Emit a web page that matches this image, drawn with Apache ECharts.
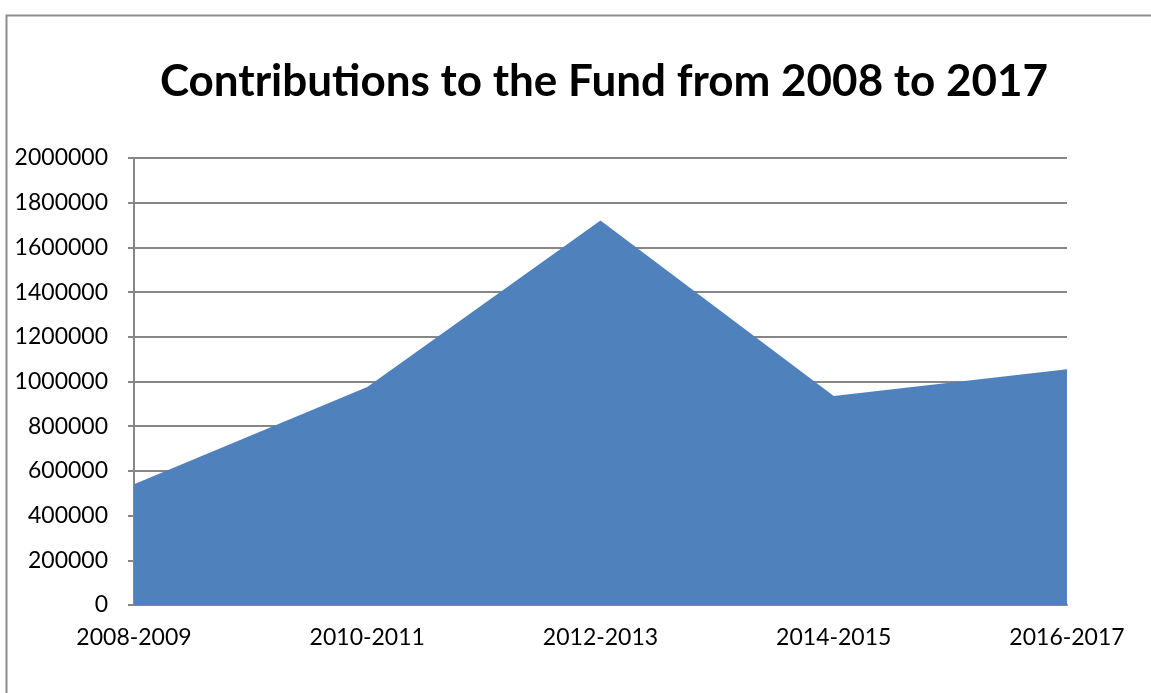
<!DOCTYPE html>
<html>
<head>
<meta charset="utf-8">
<script src="https://cdn.jsdelivr.net/npm/echarts@6/dist/echarts.min.js"></script>
<style>
  html, body { margin: 0; padding: 0; background: #fff; }
  #chart { width: 1151px; height: 693px; }
</style>
</head>
<body>
<div id="chart"></div>
<script>
// periods shown on the x axis
const periods = ['2008-2009', '2010-2011', '2012-2013', '2014-2015', '2016-2017'];
// contributions
const contributions = [540000, 975000, 1720000, 935000, 1055000];
// y axis range
const yMin = 0;
const yMax = 2000000;
const yStep = 200000;

const chart = echarts.init(document.getElementById('chart'));
const font = 'Lato, "Open Sans", sans-serif';

chart.setOption({
  backgroundColor: '#ffffff',
  animation: false,
  graphic: [{
    type: 'rect',
    left: 4, top: 13,
    shape: {width: 1170, height: 700},
    style: {fill: 'none', stroke: '#8c8c8c', lineWidth: 2}
  }],
  title: {
    text: 'Contributions to the Fund from 2008 to 2017',
    left: 599, top: 55,
    textAlign: 'center',
    textStyle: {fontFamily: font, fontSize: 44, fontWeight: 'bold', color: '#000'}
  },
  grid: {left: 134, right: 84, top: 158, bottom: 88, containLabel: false},
  xAxis: {
    type: 'category',
    boundaryGap: false,
    data: periods,
    axisLine: {lineStyle: {color: '#868686', width: 2}},
    axisTick: {show: false},
    axisLabel: {color: '#000', fontFamily: font, fontSize: 23, margin: 21}
  },
  yAxis: {
    type: 'value',
    min: yMin, max: yMax, interval: yStep,
    axisLine: {show: true, lineStyle: {color: '#868686', width: 2}},
    axisTick: {show: true, length: 6, lineStyle: {color: '#868686', width: 2}},
    splitLine: {lineStyle: {color: '#868686', width: 2}},
    axisLabel: {
      color: '#000', fontFamily: font, fontSize: 23, margin: 26,
      formatter: v => String(v)
    }
  },
  series: [{
    name: 'Contributions',
    type: 'line',
    data: contributions,
    symbol: 'none',
    lineStyle: {width: 0},
    areaStyle: {color: '#4f81bd', opacity: 1}
  }]
});
</script>
</body>
</html>
